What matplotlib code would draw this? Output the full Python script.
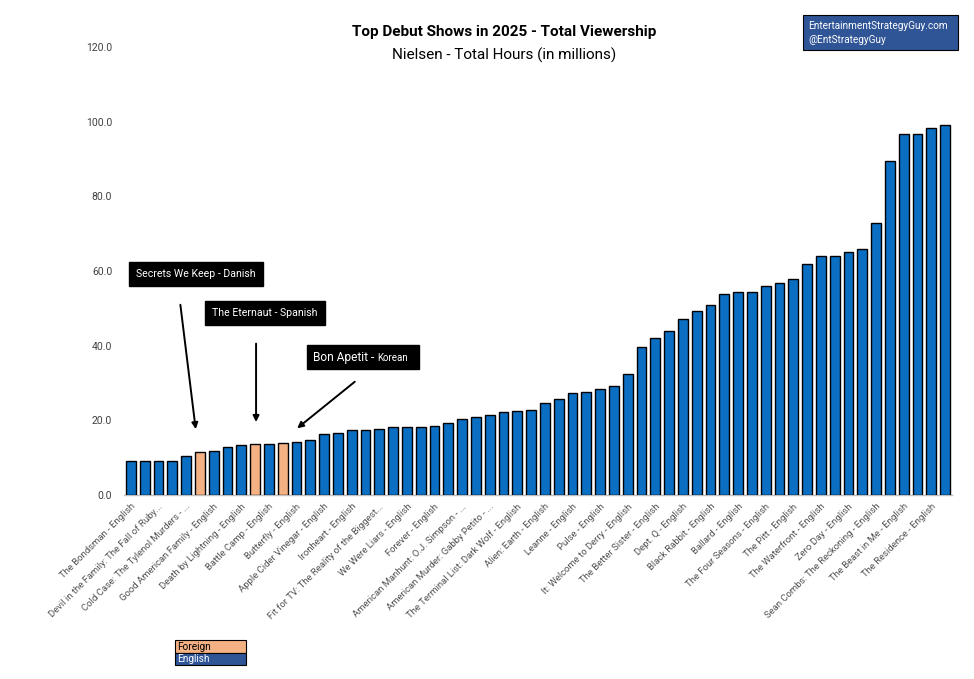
import matplotlib
matplotlib.use("Agg")
import matplotlib.pyplot as plt
from matplotlib.patches import Rectangle
from matplotlib.text import Annotation

# ---------------- data ----------------
shows = [
    "The Bondsman - English",
    "Devil in the Family: The Fall of Ruby...",
    "Cold Case: The Tylenol Murders - ...",
    "Good American Family - English",
    "Death by Lightning - English",
    "Battle Camp - English",
    "Butterfly - English",
    "Apple Cider Vinegar - English",
    "Ironheart - English",
    "Fit for TV: The Reality of the Biggest...",
    "We Were Liars - English",
    "Forever - English",
    "American Manhunt: O.J. Simpson - ...",
    "American Murder: Gabby Petito - ...",
    "The Terminal List: Dark Wolf - English",
    "Alien: Earth - English",
    "Leanne - English",
    "Pulse - English",
    "It: Welcome to Derry - English",
    "The Better Sister - English",
    "Dept. Q - English",
    "Black Rabbit - English",
    "Ballard - English",
    "The Four Seasons - English",
    "The Pitt - English",
    "The Waterfront - English",
    "Zero Day - English",
    "Sean Combs: The Reckoning - English",
    "The Beast in Me - English",
    "The Residence - English",
]

hours = [
    9.1, 9.1, 9.1, 9.1, 10.4, 11.5, 11.8, 12.9, 13.4, 13.7,
    13.7, 13.9, 14.2, 14.7, 16.4, 16.6, 17.4, 17.4, 17.7, 18.2,
    18.2, 18.2, 18.5, 19.3, 20.4, 20.9, 21.4, 22.3, 22.5, 22.8,
    24.7, 25.7, 27.3, 27.6, 28.4, 29.2, 32.4, 39.6, 42.0, 44.0,
    47.1, 49.3, 50.8, 53.9, 54.3, 54.3, 55.9, 56.7, 57.8, 61.9,
    64.0, 64.0, 65.1, 65.9, 72.8, 89.4, 96.7, 96.7, 98.3, 99.1,
]

foreign_idx = [5, 9, 11]
language = ["Foreign" if i in foreign_idx else "English" for i in range(len(hours))]

annotations = [
    ("Secrets We Keep", "Danish"),
    ("The Eternaut", "Spanish"),
    ("Bon Apetit", "Korean"),
]

yticks = [0, 20, 40, 60, 80, 100, 120]

# ---------------- style ----------------
plt.rcParams["font.family"] = ["Roboto", "DejaVu Sans"]

BAR_BLUE = "#0A6EC2"
ORANGE = "#F4B183"
DARK_BLUE = "#2F5597"

W, H = 974, 679
fig = plt.figure(figsize=(W / 100, H / 100), dpi=100)
ax = fig.add_axes([124 / W, 1 - 495 / H, (952 - 124) / W, (495 - 47) / H])

colors = [ORANGE if l == "Foreign" else BAR_BLUE for l in language]
x = list(range(len(hours)))
ax.bar(x, hours, width=0.7, color=colors, edgecolor="black", linewidth=1.0, zorder=3)

ax.set_xlim(-0.5, len(hours) - 0.5)
ax.set_ylim(0, 120)
ax.set_yticks(yticks)
ax.set_yticklabels([f"{v:.1f}" for v in yticks], fontsize=7.5, color="#404040")
ax.set_xticks(x[::2])
ax.set_xticklabels(shows, rotation=45, ha="right", rotation_mode="anchor",
                   fontsize=6.8, color="#505050")
ax.tick_params(axis="x", length=0, pad=5)
ax.tick_params(axis="y", length=0, pad=8.5)
for s in ["top", "right", "left"]:
    ax.spines[s].set_visible(False)
ax.spines["bottom"].set_color("#BFBFBF")
ax.spines["bottom"].set_linewidth(1.0)

# ---------------- title ----------------
fig.text(504 / W, 1 - 32 / H, "Top Debut Shows in 2025 - Total Viewership",
         ha="center", va="center", fontsize=11, fontweight="bold", color="black")
fig.text(504 / W, 1 - 55 / H, "Nielsen - Total Hours (in millions)",
         ha="center", va="center", fontsize=11, color="black")

# ---------------- watermark ----------------
fig.patches.append(Rectangle((803 / W, 1 - 50 / H), 155 / W, 35 / H,
                             transform=fig.transFigure, facecolor=DARK_BLUE,
                             edgecolor="black", linewidth=0.8))
fig.text(808 / W, 1 - 26 / H, "EntertainmentStrategyGuy.com", ha="left", va="center",
         fontsize=7.2, color="white")
fig.text(808 / W, 1 - 40 / H, "@EntStrategyGuy", ha="left", va="center",
         fontsize=7.2, color="white")

# ---------------- annotations ----------------
arrow_kw = dict(arrowstyle="-|>", color="black", lw=1.4, mutation_scale=9)
ax.annotate("", xy=(4.72, 16.9), xytext=(3.56, 51.7), arrowprops=arrow_kw)
ax.annotate("", xy=(9.07, 18.8), xytext=(9.07, 41.3), arrowprops=arrow_kw)
ax.annotate("", xy=(11.89, 17.4), xytext=(16.38, 30.8), arrowprops=arrow_kw)

box = dict(boxstyle="square,pad=0.65", facecolor="black", edgecolor="black")
fig.text(196 / W, 1 - 274 / H, f"{annotations[0][0]} - {annotations[0][1]}",
         ha="center", va="center", fontsize=7.6, color="white", bbox=box)
fig.text(265 / W, 1 - 313 / H, f"{annotations[1][0]} - {annotations[1][1]}",
         ha="center", va="center", fontsize=7.6, color="white", bbox=box)

fig.patches.append(Rectangle((307 / W, 1 - 369 / H), 112 / W, 24 / H,
                             transform=fig.transFigure, facecolor="black",
                             edgecolor="black"))
t1 = fig.text(313 / W, 1 - 357 / H, f"{annotations[2][0]} - ", ha="left", va="center",
              fontsize=8.6, color="white")
korean = Annotation(annotations[2][1], xy=(1.0, 0.45), xycoords=t1, ha="left",
                    va="center", fontsize=7.0, color="white", annotation_clip=False)
korean.set_zorder(5)
fig.add_artist(korean)

# ---------------- legend ----------------
leg_items = [("Foreign", ORANGE, "black"), ("English", DARK_BLUE, "white")]
for i, (name, fc, tc) in enumerate(leg_items):
    top = 640 + i * 12.5
    fig.patches.append(Rectangle((175 / W, 1 - (top + 12.5) / H), 71 / W, 12.5 / H,
                                 transform=fig.transFigure, facecolor=fc,
                                 edgecolor="black", linewidth=0.8))
    fig.text(177 / W, 1 - (top + 6.5) / H, name, ha="left", va="center",
             fontsize=7.2, color=tc)

fig.savefig("out.png", dpi=100)
